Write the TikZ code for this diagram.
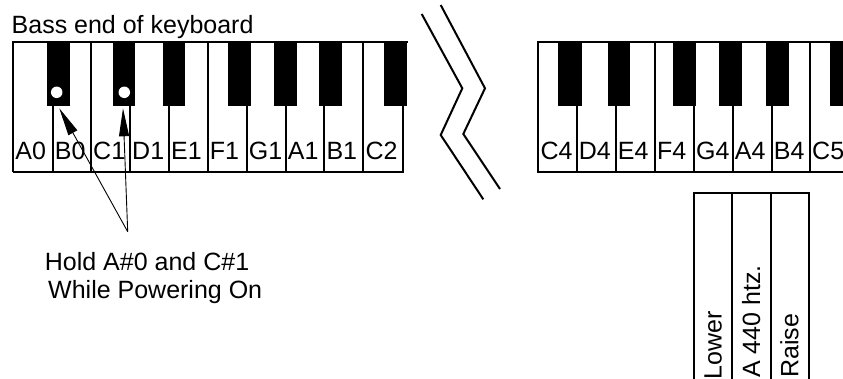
\documentclass[tikz,border=0pt]{standalone}
\usepackage{fontspec}
\setmainfont{Liberation Sans}
\usetikzlibrary{arrows.meta}
\begin{document}
\begin{tikzpicture}[x=1pt,y=-1pt,
  keyline/.style={line width=1.8pt},
  txt/.style={anchor=base west,inner sep=0pt,font=\fontsize{25}{28}\selectfont},
  dot/.style={circle,fill=white,inner sep=0pt,minimum size=11.5pt},
  arr/.style={line width=0.9pt,-{Triangle[length=28pt,width=10pt]}},
  zig/.style={line width=2pt}]
\useasboundingbox (0,0) rectangle (843,379);
\clip (0,0) rectangle (843,379);
% caption
\node[txt] (bass) at (11.5,33.3) {Bass end of keyboard};
% left keyboard
\draw[keyline] (13.3,172.3) -- (13.3,41.7) -- (408.3,41.7);
\draw[keyline] (13.3,172.3) -- (402.7,172.3) -- (402.7,41.7);
\foreach \x in {52.7,91,130,169,207.7,246.7,285.7,324.3,363.3}
  \draw[keyline] (\x,41.7) -- (\x,172.3);
\foreach \a/\b in {46.7/70,112.7/135,162.7/185,228/250.7,274/297,319/342,384/407}
  \fill (\a,41.7) rectangle (\b,106);
\foreach \x/\n in {13.3/A0,52.7/B0,91/C1,130/D1,169/E1,207.7/F1,246.7/G1,285.7/A1,324.3/B1,363.3/C2}
  \node[txt] (k\n) at (\x+2,159.3) {\n};
% held keys
\node[dot] (dA) at (56.7,92.3) {};
\node[dot] (dC) at (124.3,92.3) {};
\coordinate (meet) at (127.7,231.7);
\coordinate (tipA) at (59.3,108.3);
\coordinate (tipC) at (123,108.3);
\draw[arr] (meet) -- (tipA);
\draw[arr] (meet) -- (tipC);
\node[txt] (hold1) at (44.7,270.7) {Hold A\#0 and C\#1};
\node[txt] (hold2) at (48,298.3) {While Powering On};
% break mark
\draw[zig] (421.7,14) -- (462.3,88.3) -- (440.7,135) -- (483.3,199.3);
\draw[zig] (440.7,5) -- (485,88.3) -- (463.3,134) -- (500,189);
% right keyboard
\draw[keyline] (850,41.7) -- (538.3,41.7) -- (538.3,172.3) -- (850,172.3);
\foreach \x in {576.7,615.7,655,694,732.7,771.7,810}
  \draw[keyline] (\x,41.7) -- (\x,172.3);
\foreach \a/\b in {558.3/582.3,608.3/630,673.3/696,719.3/742.3,766/789,830/853}
  \fill (\a,41.7) rectangle (\b,106);
\foreach \x/\n in {538.3/C4,576.7/D4,615.7/E4,655/F4,694/G4,732.7/A4,771.7/B4,810/C5}
  \node[txt] (k\n) at (\x+2,159.3) {\n};
% tuning table
\draw[keyline] (693.7,400) -- (693.7,193.3) -- (809.2,193.3) -- (809.2,400);
\draw[keyline] (732,193.3) -- (732,400);
\draw[keyline] (770.8,193.3) -- (770.8,400);
\node[txt,rotate=90] (lower) at (721.7,379.5) {Lower};
\node[txt,rotate=90] (a440) at (760,378) {A 440 htz.};
\node[txt,rotate=90] (raise) at (798.3,378) {Raise};
\end{tikzpicture}
\end{document}
